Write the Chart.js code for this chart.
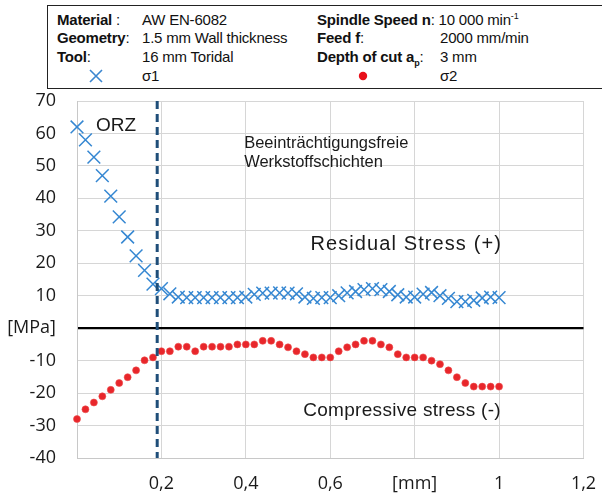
<!DOCTYPE html>
<html>
<head>
<meta charset="utf-8">
<script src="https://cdn.jsdelivr.net/npm/chart.js@4.4.1/dist/chart.umd.min.js"></script>
<style>
    body { margin: 0; width: 602px; height: 493px; background: #fff; position: relative; overflow: hidden; font-family: "Liberation Sans", Arial, sans-serif; }
    #chart { position: absolute; left: 0; top: 0; }
    #info { position: absolute; left: 47px; top: 5px; width: 570px; height: 82px; border: 1.5px solid #222; border-right: none; background: #fff; }
    .t { position: absolute; font-size: 15px; line-height: 16px; color: #111; white-space: nowrap; letter-spacing: -0.2px; }
    .b { font-weight: bold; }
    sup, sub { font-size: 9px; line-height: 0; }
</style>
</head>
<body>
<canvas id="chart" width="602" height="493"></canvas>
<div id="info">
    <div class="t" style="left:9px;top:6px"><span class="b">Material</span> :</div>
    <div class="t" style="left:94px;top:6px">AW EN-6082</div>
    <div class="t" style="left:9px;top:24px"><span class="b">Geometry</span>:</div>
    <div class="t" style="left:94px;top:24px">1.5 mm Wall thickness</div>
    <div class="t" style="left:9px;top:43px"><span class="b">Tool</span>:</div>
    <div class="t" style="left:94px;top:43px">16 mm Toridal</div>
    <svg style="position:absolute;left:41px;top:63px" width="14" height="14">
        <path d="M1 1 L13 13 M13 1 L1 13" stroke="#3B86D0" stroke-width="1.6"/>
    </svg>
    <div class="t" style="left:94px;top:62px">σ1</div>

    <div class="t" style="left:269px;top:6px"><span class="b">Spindle Speed n</span>: 10 000 min<sup>-1</sup></div>
    <div class="t b" style="left:269px;top:24px">Feed f<span style="font-weight:normal">:</span></div>
    <div class="t" style="left:392px;top:24px">2000 mm/min</div>
    <div class="t" style="left:269px;top:43px"><span class="b">Depth of cut a<sub>p</sub></span>:</div>
    <div class="t" style="left:392px;top:43px">3 mm</div>
    <svg style="position:absolute;left:310px;top:65px" width="10" height="10">
        <circle cx="5" cy="5" r="4.2" fill="#E8101A"/>
    </svg>
    <div class="t" style="left:392px;top:62px">σ2</div>
</div>
<script>
// distance from surface [mm]
const depth = [0, 0.02, 0.04, 0.06, 0.08, 0.1, 0.12, 0.14, 0.16, 0.18,
    0.2, 0.22, 0.24, 0.26, 0.28, 0.3, 0.32, 0.34, 0.36, 0.38,
    0.4, 0.42, 0.44, 0.46, 0.48, 0.5, 0.52, 0.54, 0.56, 0.58,
    0.6, 0.62, 0.64, 0.66, 0.68, 0.7, 0.72, 0.74, 0.76, 0.78,
    0.8, 0.82, 0.84, 0.86, 0.88, 0.9, 0.92, 0.94, 0.96, 0.98, 1];

// residual stress [MPa]
const sigma1 = [62, 58, 52.7, 47, 40.7, 34.3, 28.1, 22.3, 17.8, 13.6,
    12.2, 10.6, 9.6, 9.4, 9.4, 9.4, 9.4, 9.4, 9.4, 9.4,
    9.6, 10.4, 10.8, 10.8, 10.9, 10.8, 10.6, 9.6, 9.2, 9.4,
    9.4, 10, 10.9, 11.3, 11.9, 12.2, 11.9, 11.3, 10.3, 9.6,
    9.6, 10.5, 11, 10, 9.2, 8.2, 8.2, 8.6, 9.3, 9.6, 9.4];
const sigma2 = [-28, -25, -22.9, -21, -19, -16.9, -15.1, -13, -9.9, -9,
    -7.1, -7.1, -5.7, -5.7, -7.1, -5.7, -5.7, -5.7, -5.7, -5,
    -5, -5, -3.9, -3.9, -5, -5.9, -7.1, -8, -9, -9,
    -9, -7.1, -5.9, -5, -3.9, -3.9, -5, -5.9, -8, -9,
    -9, -9, -10, -11.1, -13, -15.1, -16.9, -18, -18, -18, -18];

// boundary of the affected zone (ORZ)
const orzLimit = 0.19;
const yTicks = [-40, -30, -20, -10, 0, 10, 20, 30, 40, 50, 60, 70];
const xTicks = [0, 0.2, 0.4, 0.6, 0.8, 1, 1.2];

const labels = [
    { text: 'ORZ', x: 0.045, y: 62.3, size: 19, spacing: 0 },
    { text: 'Beeinträchtigungsfreie', x: 0.396, y: 57, size: 16.5, spacing: 0 },
    { text: 'Werkstoffschichten', x: 0.396, y: 51, size: 16.5, spacing: 0 },
    { text: 'Residual Stress (+)', x: 0.553, y: 25.7, size: 20, spacing: 1.1 },
    { text: 'Compressive stress (-)', x: 0.536, y: -25.4, size: 19, spacing: 0.3 }
];

const textPlugin = {
    id: 'texts',
    afterDatasetsDraw(chart) {
        const c = chart.ctx;
        const sx = chart.scales.x, sy = chart.scales.y;
        c.save();
        c.fillStyle = '#1a1a1a';
        c.textAlign = 'left';
        c.textBaseline = 'middle';
        labels.forEach((l) => {
            c.font = l.size + 'px "Liberation Sans", Arial, sans-serif';
            c.letterSpacing = l.spacing + 'px';
            c.fillText(l.text, sx.getPixelForValue(l.x), sy.getPixelForValue(l.y));
        });
        c.restore();
    }
};

let ctx = document.getElementById('chart');
let chart = new Chart(ctx, {
    type: 'scatter',
    data: {
        datasets: [{
            type: 'line',
            data: [{ x: orzLimit, y: yTicks[yTicks.length - 1] }, { x: orzLimit, y: yTicks[0] }],
            borderColor: '#1F4E79',
            borderWidth: 3,
            borderDash: [8, 5],
            pointRadius: 0,
            order: 0
        }, {
            label: 'σ1',
            data: depth.map((d, i) => ({ x: d, y: sigma1[i] })),
            pointStyle: 'crossRot',
            pointRadius: 9,
            borderWidth: 1.5,
            borderColor: '#3587D2',
            order: 1
        }, {
            label: 'σ2',
            data: depth.map((d, i) => ({ x: d, y: sigma2[i] })),
            pointStyle: 'circle',
            pointRadius: 3.5,
            backgroundColor: '#E8262B',
            borderColor: '#EC4B4B',
            borderWidth: 0.6,
            order: 2
        }]
    },
    options: {
        responsive: false,
        animation: false,
        clip: false,
        layout: {
            padding: { left: 0, top: 101, right: 18.5, bottom: 0 }
        },
        scales: {
            x: {
                type: 'linear',
                min: xTicks[0],
                max: xTicks[xTicks.length - 1],
                afterFit: (s) => { s.height = 35; s.paddingLeft = 0; s.paddingRight = 0; },
                afterBuildTicks: (s) => { s.ticks = xTicks.map((v) => ({ value: v })); },
                grid: { color: '#d6d6d6', lineWidth: 1, drawTicks: false },
                border: { color: '#c8c8c8' },
                ticks: {
                    padding: 15,
                    color: '#1a1a1a',
                    font: { family: '"Open Sans", sans-serif', size: 18 },
                    callback: (v) => {
                        v = Math.round(v * 10) / 10;
                        if (v === 0) return '';
                        if (v === 0.8) return '[mm]';
                        return String(v).replace('.', ',');
                    }
                }
            },
            y: {
                min: yTicks[0],
                max: yTicks[yTicks.length - 1],
                afterFit: (s) => { s.width = 77; s.paddingTop = 0; s.paddingBottom = 0; },
                afterBuildTicks: (s) => { s.ticks = yTicks.map((v) => ({ value: v })); },
                grid: {
                    color: (c) => c.tick && c.tick.value === 0 ? '#000' : '#d6d6d6',
                    lineWidth: (c) => c.tick && c.tick.value === 0 ? 2.2 : 1,
                    drawTicks: false
                },
                border: { color: '#c8c8c8' },
                ticks: {
                    padding: 21,
                    color: '#1a1a1a',
                    font: { family: '"Open Sans", sans-serif', size: 18 },
                    callback: (v) => v === 0 ? '[MPa]' : v
                }
            }
        },
        plugins: {
            legend: { display: false },
            tooltip: { enabled: false }
        }
    },
    plugins: [textPlugin]
});
</script>
</body>
</html>
